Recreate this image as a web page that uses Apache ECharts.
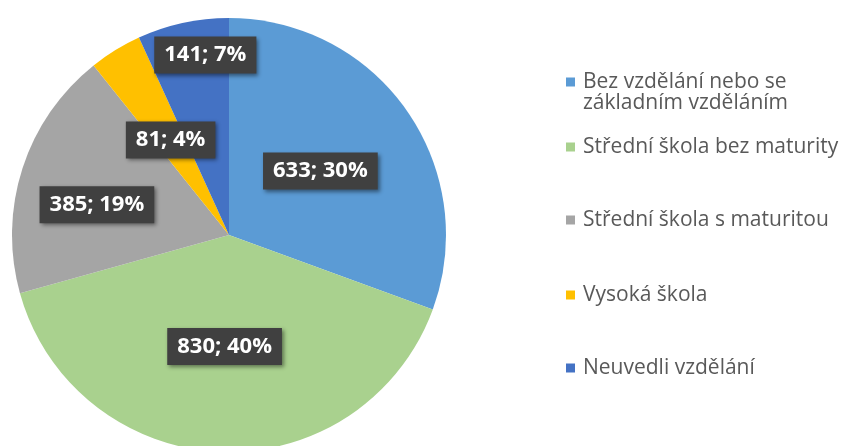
<!DOCTYPE html>
<html>
<head>
<meta charset="utf-8">
<script src="https://cdn.jsdelivr.net/npm/echarts@6/dist/echarts.min.js"></script>
<style>
  html, body { margin: 0; padding: 0; background: #fff; }
  #chart { width: 841px; height: 446px; }
</style>
</head>
<body>
<div id="chart"></div>
<script>
// data
let categories = [
    'Bez vzdělání nebo se\nzákladním vzděláním',
    'Střední škola bez maturity',
    'Střední škola s maturitou',
    'Vysoká škola',
    'Neuvedli vzdělání'
];
let values = [633, 830, 385, 81, 141];
let percents = [30, 40, 19, 4, 7];   // as printed in the labels
let colors = ['#5B9BD5', '#A9D18E', '#A5A5A5', '#FFC000', '#4472C4'];

// label nudges (Excel moved two labels off the mid radius)
let labelOffsets = [[0, 0], [0, 0], [-26, 4], [0, 0], [0, -71]];

// legend rows (first-line centre y)
let legendRows = [82, 147, 220, 295, 368];
let lh = 21;

let chart = echarts.init(document.getElementById('chart'));

let legends = categories.map((name, i) => {
    let twoLines = name.indexOf('\n') >= 0;
    return {
        orient: 'vertical',
        left: 566,
        top: twoLines ? legendRows[i] - lh * 1.5 : legendRows[i] - lh / 2,
        padding: 0,
        itemWidth: 9,
        itemHeight: 9,
        icon: 'rect',
        selectedMode: false,
        data: [name],
        // blank first line keeps the marker level with the first text line
        formatter: n => twoLines ? '\n' + n : n,
        textStyle: {
            fontFamily: 'Open Sans',
            fontSize: 21,
            color: '#595959',
            lineHeight: lh,
            padding: [0, 0, 0, 3]
        }
    };
});

let option = {
    backgroundColor: '#fff',
    animation: false,
    color: colors,
    legend: legends,
    series: [
        {
            type: 'pie',
            center: [229, 235],
            radius: 217,
            startAngle: 90,
            clockwise: true,
            avoidLabelOverlap: false,
            labelLine: { show: false },
            label: {
                show: true,
                position: 'inside',
                fontFamily: 'Open Sans',
                fontWeight: 'bold',
                fontSize: 22,
                lineHeight: 24,
                color: '#fff',
                backgroundColor: '#404040',
                padding: [7, 10, 6, 10],
                shadowColor: 'rgba(0,0,0,0.45)',
                shadowBlur: 4,
                shadowOffsetX: 2,
                shadowOffsetY: 2
            },
            data: values.map((v, i) => ({
                name: categories[i],
                value: v,
                label: {
                    formatter: v + '; ' + percents[i] + '%',
                    offset: labelOffsets[i]
                }
            }))
        }
    ]
};

chart.setOption(option);
</script>
</body>
</html>
